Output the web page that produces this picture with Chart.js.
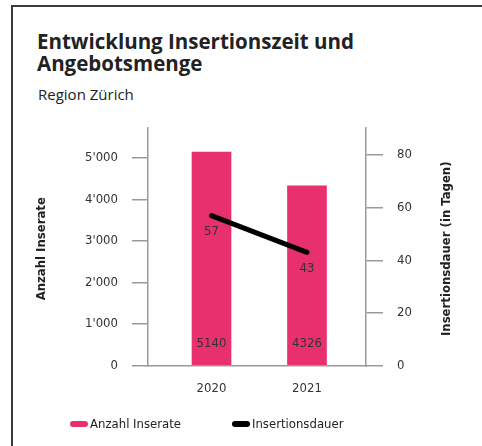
<!DOCTYPE html>
<html>
<head>
<meta charset="utf-8">
<script src="https://cdn.jsdelivr.net/npm/chart.js@4"></script>
<style>
  body { margin: 0; background: #fff; }
  #wrap { position: relative; width: 482px; height: 446px; overflow: hidden; }
  #frame { position: absolute; left: 11px; top: 5px; width: 480px; height: 460px;
           border-left: 2px solid #3a3a3a; border-top: 2px solid #3a3a3a; }
  #titel { position: absolute; left: 37px; top: 30px; font-family: "Open Sans", sans-serif;
           font-weight: 700; font-size: 20.5px; line-height: 22px; color: #222; }
  #untertitel { position: absolute; left: 38px; top: 84px; font-family: "Open Sans", sans-serif;
           font-size: 15px; color: #222; }
  canvas { position: absolute; left: 0; top: 0; }
</style>
</head>
<body>
<div id="wrap">
  <div id="frame"></div>
  <div id="titel">Entwicklung Insertionszeit und<br>Angebotsmenge</div>
  <div id="untertitel">Region Zürich</div>
  <canvas id="chart" width="482" height="446"></canvas>
</div>
<script>
// Daten
const jahre = ["2020", "2021"];
const anzahlInserate = [5140, 4326];
const insertionsdauer = [57, 43];
const ticksLinks = [0, 1000, 2000, 3000, 4000, 5000];
const ticksRechts = [0, 20, 40, 60, 80];

const schrift = "'DejaVu Sans Condensed', 'DejaVu Sans', sans-serif";
const pink = "#e8306f";
const grau = "#9a9a9a";

// Werte in Balken und an der Linie
const wertePlugin = {
  id: "werte",
  afterDatasetsDraw(chart) {
    const ctx = chart.ctx;
    ctx.save();
    ctx.font = "13px " + schrift;
    ctx.fillStyle = "#333";
    ctx.textAlign = "center";
    ctx.textBaseline = "middle";
    chart.getDatasetMeta(0).data.forEach((bar, i) => {
      ctx.fillText(anzahlInserate[i], bar.x, chart.scales.y.getPixelForValue(0) - 22);
    });
    chart.getDatasetMeta(1).data.forEach((pt, i) => {
      ctx.fillText(insertionsdauer[i], pt.x, pt.y + 16);
    });
    ctx.restore();
  }
};

// Achsentitel (beide von unten nach oben) und Legende
const titelPlugin = {
  id: "achsentitel",
  afterDraw(chart) {
    const ctx = chart.ctx;
    const area = chart.chartArea;
    ctx.save();
    ctx.font = "bold 13px " + schrift;
    ctx.fillStyle = "#222";
    ctx.textAlign = "center";
    ctx.textBaseline = "middle";
    [["Anzahl Inserate", 42], ["Insertionsdauer (in Tagen)", 447]].forEach(([t, x]) => {
      ctx.save();
      ctx.translate(x, (area.top + area.bottom) / 2 + 2);
      ctx.rotate(-Math.PI / 2);
      ctx.fillText(t, 0, 0);
      ctx.restore();
    });

    // Legende
    ctx.font = "13px " + schrift;
    ctx.textAlign = "left";
    ctx.lineCap = "round";
    ctx.lineWidth = 6;
    const legX = [73, 235];
    chart.data.datasets.forEach((d, i) => {
      const y = 424;
      ctx.strokeStyle = d.type === "bar" ? d.backgroundColor : d.borderColor;
      ctx.beginPath();
      ctx.moveTo(legX[i], y);
      ctx.lineTo(legX[i] + 12, y);
      ctx.stroke();
      ctx.fillStyle = "#222";
      ctx.fillText(d.label, legX[i] + 17, y + 1);
    });
    ctx.restore();
  }
};

new Chart(document.getElementById("chart"), {
  data: {
    datasets: [
      {
        type: "bar",
        label: "Anzahl Inserate",
        data: anzahlInserate.map((v, i) => ({ x: i, y: v })),
        backgroundColor: pink,
        barThickness: 39,
        yAxisID: "y",
        order: 2
      },
      {
        type: "line",
        label: "Insertionsdauer",
        data: insertionsdauer.map((v, i) => ({ x: i, y: v })),
        borderColor: "#000",
        backgroundColor: "#000",
        borderWidth: 5,
        borderCapStyle: "round",
        pointRadius: 0,
        yAxisID: "y1",
        order: 1
      }
    ]
  },
  options: {
    responsive: false,
    animation: false,
    layout: { padding: { top: 128, bottom: 50.5 } },
    scales: {
      x: {
        type: "linear",
        offset: false,
        min: -0.665,
        max: 1.618,
        afterBuildTicks: s => { s.ticks = jahre.map((j, i) => ({ value: i })); },
        afterFit: s => { s.height = 30; },
        ticks: {
          callback: v => jahre[v],
          font: { family: schrift, size: 13 },
          color: "#333",
          padding: 15
        },
        grid: { display: false, drawTicks: false },
        border: { display: true, color: grau, width: 1.5 }
      },
      y: {
        position: "left",
        min: 0,
        max: 5720,
        afterFit: s => { s.width = 148; },
        afterBuildTicks: s => { s.ticks = ticksLinks.map(v => ({ value: v })); },
        ticks: {
          callback: v => v === 0 ? "0" : String(v).replace(/(\d)(\d{3})$/, "$1'$2"),
          font: { family: schrift, size: 13 },
          color: "#333",
          padding: 14
        },
        grid: { drawOnChartArea: false, tickLength: 16, color: grau, lineWidth: 1.5 },
        border: { display: true, color: grau, width: 1.5 }
      },
      y1: {
        position: "right",
        min: 0,
        max: 90.3,
        afterFit: s => { s.width = 116; },
        afterBuildTicks: s => { s.ticks = ticksRechts.map(v => ({ value: v })); },
        ticks: {
          font: { family: schrift, size: 13 },
          color: "#333",
          padding: 14
        },
        grid: { drawOnChartArea: false, tickLength: 17, color: grau, lineWidth: 1.5 },
        border: { display: true, color: grau, width: 1.5 }
      }
    },
    plugins: {
      tooltip: { enabled: false },
      legend: { display: false }
    }
  },
  plugins: [wertePlugin, titelPlugin]
});
</script>
</body>
</html>
